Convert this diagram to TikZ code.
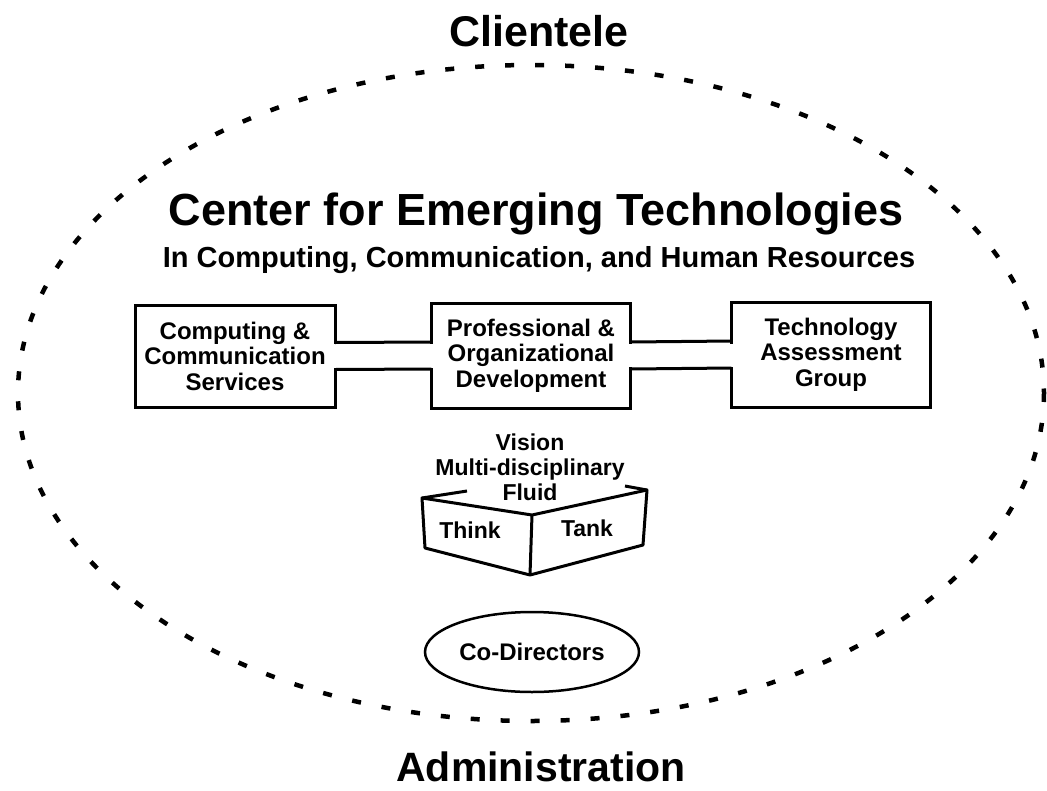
\documentclass[tikz,border=0pt]{standalone}
\usepackage{fontspec}
\setmainfont{Liberation Sans}
\usetikzlibrary{shapes.geometric,calc}

\newcommand{\fsz}[2]{\fontsize{#1}{#2}\selectfont\bfseries}

\tikzset{
  label/.style={inner sep=0pt, align=center, font=\fsz{24}{25.5}},
  unitbox/.style={draw, line width=3pt, inner sep=0pt, align=center,
    minimum width=199pt, minimum height=104pt, font=\fsz{24}{25.5}},
  channel/.style={line width=3pt},
  tank/.style={line width=3pt, line join=round},
  boundary/.style={line width=4.5pt, dash pattern=on 9pt off 21pt},
  leader/.style={draw, ellipse, line width=2.5pt, inner sep=0pt,
    minimum width=214pt, minimum height=80pt, font=\fsz{24}{26}}
}

\begin{document}
\begin{tikzpicture}[x=1pt, y=-1pt]
  \useasboundingbox (0,0) rectangle (1047,790);

  % outer dashed boundary
  \draw[boundary] (531,393) ellipse [x radius=513, y radius=328];

  % headings
  \node[inner sep=0pt, anchor=base, font=\fsz{43}{48}] (clientele) at (539,46) {Clientele};
  \node[inner sep=0pt, anchor=base, font=\fsz{45}{50}] (title) at (536,225) {Center for Emerging Technologies};
  \node[inner sep=0pt, anchor=base, font=\fsz{29}{32}] (subtitle) at (539,267) {In Computing, Communication, and Human Resources};
  \node[inner sep=0pt, anchor=base, font=\fsz{41}{46}] (admin) at (541,781) {Administration};

  % the three units
  \node[unitbox, minimum width=200pt, minimum height=102pt] (ccs) at (235,356)
    {Computing \&\\Communication\\Services};
  \node[unitbox, minimum height=105pt] (pod) at (531,355.5)
    {Professional \&\\Organizational\\Development};
  \node[unitbox, minimum height=105pt] (tag) at (831,354.5)
    {Technology\\Assessment\\Group};

  % channels joining the units
  \foreach \a/\b in {ccs/pod, pod/tag}{
    \fill[white] ([xshift=-3pt, yshift=12pt]\a.east) rectangle ([xshift=3pt, yshift=-12pt]\b.west);
    \draw[channel] ([xshift=-1.5pt, yshift=13.5pt]\a.east) -- ([xshift=1.5pt, yshift=13.5pt]\b.west);
    \draw[channel] ([xshift=-1.5pt, yshift=-13.5pt]\a.east) -- ([xshift=1.5pt, yshift=-13.5pt]\b.west);
  }

  % think tank
  \node[label, font=\fsz{23}{25}] (vision) at (530,467) {Vision\\Multi-disciplinary\\Fluid};
  \coordinate (tl) at (422,498);
  \coordinate (bl) at (425,548);
  \coordinate (bm) at (530,575);
  \coordinate (tm) at (532,515);
  \coordinate (tr) at (647,490);
  \coordinate (br) at (643,545);
  \draw[tank] (tm) -- (tl) -- (bl) -- (bm) -- (br) -- (tr) -- cycle;
  \draw[tank] (tm) -- (bm);
  \draw[tank] (tl) -- (467,491);
  \draw[tank] (625,486) -- (tr);
  \node[label, font=\fsz{23}{25}] (think) at (470,530) {Think};
  \node[label, font=\fsz{23}{25}] (tanktext) at (587,528) {Tank};

  % leadership
  \node[leader] (codir) at (532,652) {Co-Directors};
\end{tikzpicture}
\end{document}
